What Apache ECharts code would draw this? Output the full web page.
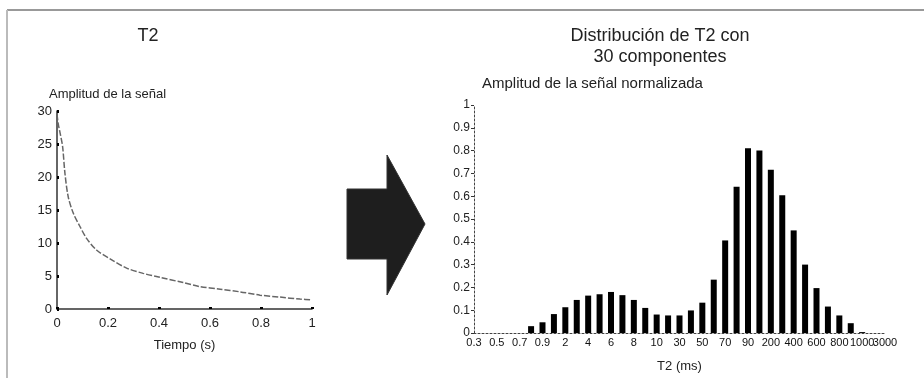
<!DOCTYPE html>
<html>
<head>
<meta charset="utf-8">
<script src="https://cdn.jsdelivr.net/npm/echarts@6/dist/echarts.min.js"></script>
<style>
html,body{margin:0;padding:0;background:#fff;}
#c{width:924px;height:378px;}
</style>
</head>
<body>
<div id="c"></div>
<script>
// Left chart: T2 decay curve
const decayTime = [0, 0.005, 0.012, 0.022, 0.031, 0.044, 0.064, 0.09, 0.116, 0.156, 0.208, 0.273, 0.338, 0.404, 0.495, 0.56, 0.64, 0.718, 0.796, 0.875, 0.953, 1.0];
const decayAmp  = [29.5, 28, 26.7, 24.6, 20.6, 17, 14.5, 12.5, 10.7, 8.9, 7.6, 6.2, 5.4, 4.8, 4.0, 3.4, 3.0, 2.6, 2.1, 1.8, 1.5, 1.4];

// Right chart: T2 distribution, 30 components
const t2Categories = ['0.3','0.4','0.5','0.6','0.7','0.8','0.9','1','2','3','4','5','6','7','8','9',
  '10','20','30','40','50','60','70','80','90','100','200','300','400','500','600','700','800','900','1000','2000','3000'];
const t2Amplitude = [0, 0, 0, 0, 0, 0.03, 0.047, 0.083, 0.113, 0.145, 0.164, 0.17, 0.18, 0.166, 0.145, 0.11,
  0.081, 0.077, 0.077, 0.099, 0.133, 0.234, 0.406, 0.641, 0.81, 0.80, 0.716, 0.604, 0.45, 0.30, 0.197, 0.116, 0.077, 0.043, 0.004, 0, 0];

const FONT = 'Liberation Sans, Arial, sans-serif';
const TXT = '#222';

const chart = echarts.init(document.getElementById('c'), null, {renderer: 'canvas'});
chart.setOption({
  backgroundColor: '#fff',
  animation: false,
  title: [
    {text: 'T2', left: 143, top: 22, textAlign: 'center',
     textStyle: {fontFamily: FONT, fontSize: 18, fontWeight: 'normal', color: TXT}},
    {text: 'Distribución de T2 con\n30 componentes', left: 655, top: 21, textAlign: 'center',
     textStyle: {fontFamily: FONT, fontSize: 18, fontWeight: 'normal', color: TXT, lineHeight: 21, align: 'center'}}
  ],
  grid: [
    {left: 57, top: 111, width: 255, height: 198},
    {left: 474, top: 105, width: 411, height: 228}
  ],
  xAxis: [
    {gridIndex: 0, type: 'value', min: 0, max: 1, interval: 0.2,
     name: 'Tiempo (s)', nameLocation: 'middle', nameGap: 30,
     nameTextStyle: {fontFamily: FONT, fontSize: 13, color: TXT},
     axisLine: {lineStyle: {color: '#333', width: 1.5}},
     axisTick: {show: true, inside: true, length: 2, lineStyle: {color: '#000', width: 3}},
     axisLabel: {fontFamily: FONT, fontSize: 13, color: TXT, margin: 8},
     splitLine: {show: false}},
    {gridIndex: 1, type: 'category', data: t2Categories, boundaryGap: false,
     name: 'T2 (ms)', nameLocation: 'middle', nameGap: 27,
     nameTextStyle: {fontFamily: FONT, fontSize: 13, color: TXT},
     axisLine: {lineStyle: {color: '#444', width: 1, type: [2, 2]}},
     axisTick: {show: false},
     axisLabel: {interval: 0, hideOverlap: false,
                 formatter: (v, i) => (i % 2 === 0 ? v : ''),
                 fontFamily: FONT, fontSize: 11, color: '#111', margin: 4},
     splitLine: {show: false}}
  ],
  yAxis: [
    {gridIndex: 0, type: 'value', min: 0, max: 30, interval: 5,
     name: 'Amplitud de la señal', nameLocation: 'end', nameGap: 10,
     nameTextStyle: {fontFamily: FONT, fontSize: 13, color: TXT, align: 'left', padding: [0, 0, 0, -8]},
     axisLine: {show: true, lineStyle: {color: '#333', width: 1.5}},
     axisTick: {show: true, inside: true, length: 2, lineStyle: {color: '#000', width: 3}},
     axisLabel: {fontFamily: FONT, fontSize: 13, color: TXT, margin: 5},
     splitLine: {show: false}},
    {gridIndex: 1, type: 'value', min: 0, max: 1, interval: 0.1,
     name: 'Amplitud de la señal normalizada', nameLocation: 'end', nameGap: 14,
     nameTextStyle: {fontFamily: FONT, fontSize: 15, color: TXT, align: 'left', padding: [0, 0, 0, 8]},
     axisLine: {show: true, lineStyle: {color: '#444', width: 1, type: [2, 2]}},
     axisTick: {show: true, length: 3, lineStyle: {color: '#333'}},
     axisLabel: {fontFamily: FONT, fontSize: 12, color: TXT, margin: 4},
     splitLine: {show: false}}
  ],
  series: [
    {type: 'line', xAxisIndex: 0, yAxisIndex: 0,
     data: decayTime.map((t, i) => [t, decayAmp[i]]),
     smooth: 0.3, showSymbol: false,
     lineStyle: {color: '#666', width: 1.5, type: [6, 2]}},
    {type: 'bar', xAxisIndex: 1, yAxisIndex: 1,
     data: t2Amplitude, barWidth: 6,
     itemStyle: {color: '#000'}}
  ],
  graphic: [
    {type: 'line', shape: {x1: 7, y1: 10, x2: 924, y2: 10}, style: {stroke: '#999', lineWidth: 2}},
    {type: 'line', shape: {x1: 7, y1: 10, x2: 7, y2: 378}, style: {stroke: '#bbb', lineWidth: 2}},
    {type: 'polygon', shape: {points: [[347,189],[387,189],[387,155],[425,224],[387,295],[387,259],[347,259]]},
     style: {fill: '#1e1e1e', stroke: '#333', lineWidth: 1}}
  ]
});
</script>
</body>
</html>
